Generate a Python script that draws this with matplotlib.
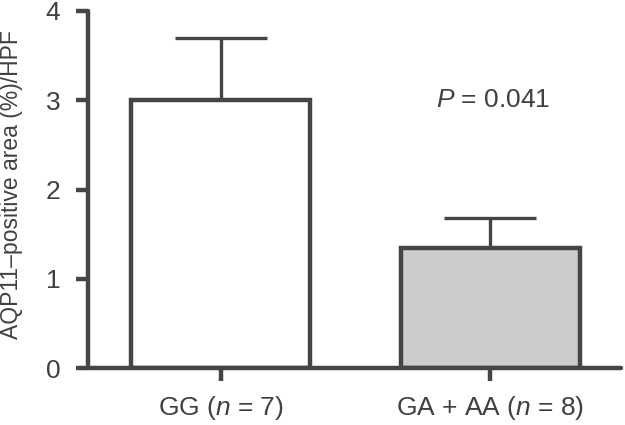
import numpy as np
import matplotlib as mpl
import matplotlib.pyplot as plt

mpl.rcParams['font.family'] = ['Liberation Sans', 'DejaVu Sans']
mpl.rcParams['mathtext.fontset'] = 'custom'
mpl.rcParams['mathtext.rm'] = 'Liberation Sans'
mpl.rcParams['mathtext.it'] = 'Liberation Sans:italic'

groups = ['GG ($n$ = 7)', 'GA + AA ($n$ = 8)']
means = [3.0, 1.34]
sems = [0.70, 0.34]
fills = ['white', '#cccccc']

dark = '#454545'
txt = '#404040'

fig = plt.figure(figsize=(6.25, 4.25), dpi=100)
ax = fig.add_axes([88 / 625, 57 / 425, 533 / 625, 357 / 425])

x = np.arange(len(groups))
ax.bar(x, means, width=0.664, color=fills, edgecolor=dark, linewidth=3.2, zorder=2)
ax.errorbar(x, means, yerr=[np.zeros(len(sems)), sems], fmt='none', ecolor=dark,
            elinewidth=2.4, capsize=33, capthick=2.4, zorder=1)

ax.set_xlim(-0.4925, 1.485)
ax.set_ylim(0, 4)
ax.set_yticks([0, 1, 2, 3, 4])
ax.set_xticks(x)
ax.set_xticklabels(groups)

for s in ['top', 'right']:
    ax.spines[s].set_visible(False)
for s in ['left', 'bottom']:
    ax.spines[s].set_linewidth(3.2)
    ax.spines[s].set_color(dark)
    ax.spines[s].set_capstyle('round')

ax.tick_params(axis='both', length=9, width=3.2, color=dark, labelcolor=txt, labelsize=19)
ax.tick_params(axis='x', pad=10)
ax.tick_params(axis='y', pad=11)

ax.set_ylabel('AQP11\u2012positive area (%)/HPF', fontsize=16.5, color=txt)
ax.yaxis.set_label_coords(-0.122, 0.515)
ax.text(1.01, 3.0, '$P$ = 0.041', ha='center', va='center', fontsize=19, color=txt)

fig.savefig('out.png', dpi=100)
